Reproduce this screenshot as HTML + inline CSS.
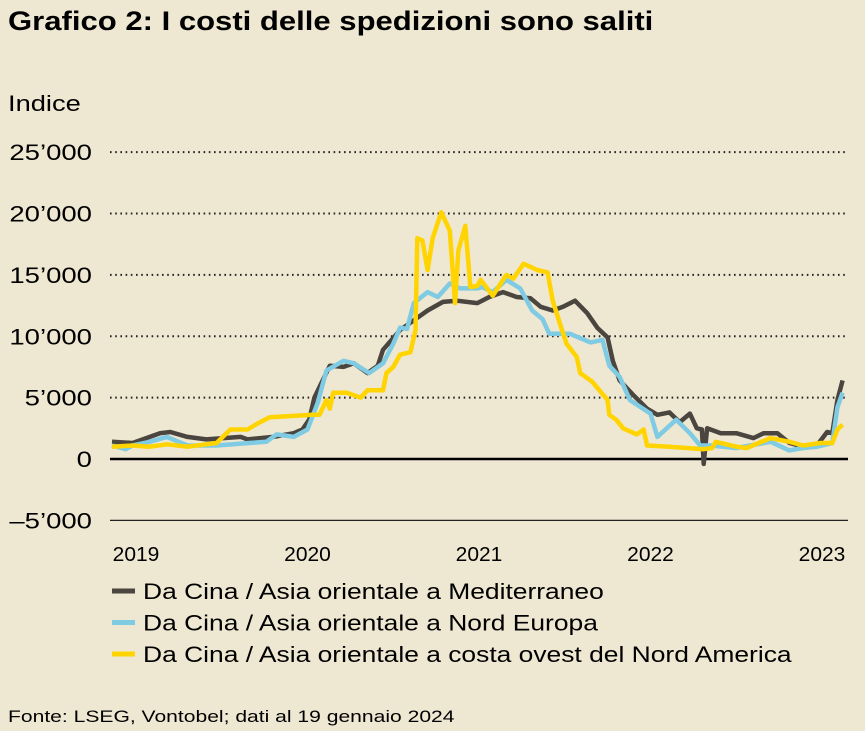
<!DOCTYPE html>
<html><head><meta charset="utf-8">
<style>
body{margin:0;background:#EEE7D2;font-family:"Liberation Sans",Arial,sans-serif;color:#111;}
#wrap{position:relative;width:865px;height:731px;overflow:hidden;background:#EEE7D2;}
</style></head>
<body>
<div id="wrap">
<svg id="chart" width="865" height="731">
<text x="8" y="30" font-size="27" font-weight="bold" data-sx="1.15">Grafico 2: I costi delle spedizioni sono saliti</text>
<text x="8" y="111" font-size="22" data-sx="1.24">Indice</text>
<g id="grid"></g>
<g id="series"></g>
<g id="legend"></g>
<text x="8" y="722" font-size="17" data-sx="1.24">Fonte: LSEG, Vontobel; dati al 19 gennaio 2024</text>
</svg>
</div>
<script>
const yTicks=[25000,20000,15000,10000,5000,0,-5000];
const yTickLabels=["25’000","20’000","15’000","10’000","5’000","0","–5’000"];
const xTicks=[2019,2020,2021,2022,2023];
const xTickLabels=["2019","2020","2021","2022","2023"];
const seriesNames=["Da Cina / Asia orientale a Mediterraneo","Da Cina / Asia orientale a Nord Europa","Da Cina / Asia orientale a costa ovest del Nord America"];
const medT=[2018.86,2018.98,2019.14,2019.2,2019.3,2019.41,2019.61,2019.65,2019.8,2019.92,2019.97,2020.01,2020.04,2020.13,2020.21,2020.27,2020.35,2020.41,2020.44,2020.54,2020.62,2020.7,2020.79,2020.87,2020.99,2021.06,2021.14,2021.22,2021.3,2021.36,2021.43,2021.49,2021.56,2021.63,2021.69,2021.75,2021.78,2021.82,2021.9,2021.98,2022.04,2022.11,2022.17,2022.23,2022.27,2022.3,2022.31,2022.33,2022.41,2022.5,2022.6,2022.66,2022.74,2022.81,2022.89,2022.97,2023.03,2023.06,2023.09,2023.12];
const medV=[1.4,1.3,2.1,2.2,1.8,1.6,1.8,1.6,1.8,2.1,2.4,3.2,5.0,7.6,7.5,7.8,7.0,7.6,8.9,10.5,11.3,12.1,12.8,12.9,12.7,13.2,13.6,13.2,13.1,12.4,12.1,12.4,12.9,11.9,10.7,9.9,8.0,6.4,5.2,4.1,3.6,3.8,3.0,3.7,2.5,2.4,-0.4,2.5,2.1,2.1,1.7,2.1,2.1,1.3,1.0,1.1,2.2,2.1,4.8,6.4];
const nordT=[2018.86,2018.94,2018.98,2019.08,2019.18,2019.3,2019.47,2019.66,2019.76,2019.82,2019.92,2020.0,2020.06,2020.11,2020.21,2020.27,2020.36,2020.44,2020.5,2020.54,2020.58,2020.62,2020.7,2020.76,2020.83,2020.89,2020.99,2021.02,2021.08,2021.16,2021.24,2021.31,2021.37,2021.41,2021.53,2021.65,2021.72,2021.76,2021.82,2021.88,2022.0,2022.04,2022.15,2022.23,2022.29,2022.35,2022.5,2022.7,2022.81,2022.89,2022.97,2023.06,2023.09,2023.12];
const nordV=[1.1,0.8,1.1,1.4,1.8,1.1,1.1,1.3,1.4,2.0,1.8,2.4,4.6,7.2,8.0,7.8,7.0,7.8,9.4,10.7,10.6,12.7,13.6,13.2,14.3,13.9,13.9,14.0,13.6,14.6,13.9,12.1,11.4,10.2,10.2,9.5,9.7,7.6,6.7,4.8,3.7,1.8,3.2,2.1,1.1,1.1,0.9,1.4,0.7,0.9,1.0,1.3,4.2,5.4];
const ovestT=[2018.86,2018.98,2019.08,2019.18,2019.3,2019.47,2019.55,2019.65,2019.71,2019.78,2020.03,2020.07,2020.11,2020.13,2020.15,2020.23,2020.31,2020.35,2020.44,2020.46,2020.5,2020.54,2020.6,2020.63,2020.64,2020.67,2020.7,2020.73,2020.78,2020.83,2020.86,2020.88,2020.92,2020.95,2020.99,2021.01,2021.08,2021.16,2021.2,2021.26,2021.34,2021.4,2021.43,2021.47,2021.51,2021.57,2021.59,2021.66,2021.75,2021.76,2021.8,2021.84,2021.92,2021.96,2021.98,2022.11,2022.31,2022.36,2022.38,2022.5,2022.56,2022.7,2022.81,2022.89,2022.99,2023.06,2023.09,2023.12];
const ovestV=[1.0,1.1,1.0,1.2,1.0,1.3,2.4,2.4,2.9,3.4,3.6,3.6,4.8,4.1,5.4,5.4,5.0,5.6,5.6,7.0,7.5,8.5,8.7,10.5,18.0,17.8,15.4,18.0,20.1,18.6,12.7,17.0,19.0,14.0,14.1,14.6,13.3,15.0,14.7,15.9,15.4,15.2,12.9,11.1,9.4,8.3,7.0,6.3,4.8,3.6,3.2,2.5,2.0,2.4,1.1,1.0,0.8,0.9,1.4,1.0,0.9,1.7,1.4,1.1,1.3,1.3,2.4,2.8];
const colors=["#4A453F","#7ECBE3","#FFD400"];

const NS="http://www.w3.org/2000/svg";
const X0=110,X1=848;
function xScale(t){return 136+(t-2019)*171.5;}
function yScale(v){return 459-v*0.012275;}
function mk(tag,attrs,parent){const e=document.createElementNS(NS,tag);for(const k in attrs)e.setAttribute(k,attrs[k]);parent.appendChild(e);return e;}
const grid=document.getElementById('grid');
yTicks.forEach((v,i)=>{
  const y=yScale(v);
  let ln;
  if(v===0) ln=mk('line',{x1:X0,x2:X1,y1:y,y2:y,stroke:'#000','stroke-width':2.5},grid);
  else if(v<0) ln=mk('line',{x1:X0,x2:X1,y1:y,y2:y,stroke:'#222','stroke-width':1.2},grid);
  else ln=mk('line',{x1:X0,x2:X1,y1:y,y2:y,stroke:'#222','stroke-width':2,'stroke-dasharray':'1.6 3.6'},grid);
  
  
  const t=mk('text',{x:92,y:y+8,'font-size':22,'text-anchor':'end','data-sx':'1.25'},grid);
  t.textContent=yTickLabels[i];
  
  
});
xTicks.forEach((yr,i)=>{
  const t=mk('text',{x:xScale(yr),y:561,'font-size':20,'text-anchor':'middle','data-sx':'1.05'},grid);
  t.textContent=xTickLabels[i];
  
  
});
const ser=document.getElementById('series');
[[medT,medV],[nordT,nordV],[ovestT,ovestV]].forEach((s,i)=>{
  const d=s[0].map((t,j)=>(j?'L':'M')+xScale(t).toFixed(1)+','+yScale(s[1][j]*1000).toFixed(1)).join(' ');
  const p=mk('path',{d:d,fill:'none',stroke:colors[i],'stroke-width':4.5,'stroke-linejoin':'round'},ser);
  
  
});
const leg=document.getElementById('legend');
seriesNames.forEach((n,i)=>{
  const y=591+i*31.5;
  const l=mk('line',{x1:112,x2:135,y1:y,y2:y,stroke:colors[i],'stroke-width':5},leg);
  
  
  const t=mk('text',{x:143,y:y+8,'font-size':22,'data-sx':'1.2'},leg);
  t.textContent=n;
  
  
});
document.querySelectorAll('text[data-sx]').forEach(t=>{
  const w=t.getComputedTextLength()*parseFloat(t.getAttribute('data-sx'));
  t.setAttribute('textLength',w.toFixed(1));
  t.setAttribute('lengthAdjust','spacingAndGlyphs');
});
</script>
</body></html>
